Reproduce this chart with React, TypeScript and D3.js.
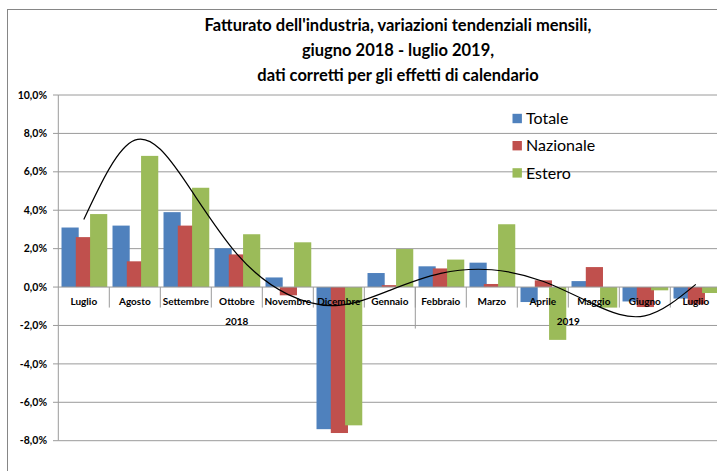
import React from "react";
import * as d3 from "d3";

const categories = ["Luglio","Agosto","Settembre","Ottobre","Novembre","Dicembre","Gennaio","Febbraio","Marzo","Aprile","Maggio","Giugno","Luglio "];
const totale =     [3.1, 3.2, 3.9, 2.02, 0.5, -7.4, 0.73, 1.08, 1.27, -0.78, 0.31, -0.75, -0.6];
const nazionale =  [2.6, 1.34, 3.2, 1.7, -0.43, -7.6, 0.1, 0.97, 0.16, 0.35, 1.04, -1.04, -0.9];
const estero =     [3.8, 6.83, 5.17, 2.75, 2.33, -7.2, 1.98, 1.43, 3.27, -2.75, -1.07, -0.17, -0.31];
const trend =      [3.52, 7.65, 5.46, 1.73, -0.38, -0.95, -0.17, 0.71, 0.9, 0.3, -0.9, -1.5, 0.14];
const yTicks = [10, 8, 6, 4, 2, 0, -2, -4, -6, -8];
const years = [{ label: "2018", from: 0, to: 6 }, { label: "2019", from: 7, to: 12 }];
const seriesNames = ["Totale", "Nazionale", "Estero"];
const colors = ["#4F81BD", "#C0504D", "#9BBB59"];
const titleLines = [
  "Fatturato dell'industria, variazioni tendenziali mensili,",
  "giugno 2018 - luglio 2019,",
  "dati corretti per gli effetti di calendario",
];

const fmt = (v: number) => v.toFixed(1).replace(".", ",") + "%";

export default function App() {
  const W = 717, H = 471;
  const x = d3.scaleBand<string>().domain(categories).range([58.3, 721.3]).padding(0);
  const y = d3.scaleLinear().domain([-8, 10]).range([440.7, 95]);
  const bw = x.bandwidth();
  const barW = bw * 0.337;
  const step = bw * 0.28;
  const off = bw * 0.063;
  const series = [totale, nazionale, estero];
  const y0 = y(0);
  const font = "Lato, 'Open Sans', sans-serif";
  const line = d3.line<number>()
    .x((_, i) => (x(categories[i]) as number) + bw / 2)
    .y((d) => y(d))
    .curve(d3.curveNatural);

  return (
    <div style={{ position: "fixed", left: 0, top: 0 }}>
      <svg width={W} height={H} style={{ display: "block", background: "#fff" }}>
        <rect x={7.5} y={9.5} width={720} height={480} fill="#fff" stroke="#868686" strokeWidth={1} />
        {titleLines.map((t, i) => (
          <text key={i} x={398} y={31 + i * 25} textAnchor="middle" fontFamily={font} fontWeight={700} fontSize={16.5} fill="#000">{t}</text>
        ))}
        {/* gridlines */}
        {yTicks.filter((t) => t !== 0).map((t) => (
          <line key={t} x1={58.3} x2={721.3} y1={y(t)} y2={y(t)} stroke="#9a9a9a" strokeWidth={1} />
        ))}
        {/* y axis */}
        <line x1={58.3} x2={58.3} y1={y(10)} y2={y(-8)} stroke="#9a9a9a" strokeWidth={1} />
        {yTicks.map((t) => (
          <g key={t}>
            <line x1={53} x2={58.3} y1={y(t)} y2={y(t)} stroke="#9a9a9a" strokeWidth={1} />
            <text x={47} y={y(t)} dy="0.35em" textAnchor="end" fontFamily={font} fontWeight={700} fontSize={10.5} fill="#000">{fmt(t)}</text>
          </g>
        ))}
        {/* bars */}
        {series.map((s, si) =>
          s.map((v, i) => {
            const bx = (x(categories[i]) as number) + off + si * step;
            return (
              <rect key={si + "-" + i} x={bx} width={barW} y={Math.min(y(v), y0)} height={Math.abs(y(v) - y0)} fill={colors[si]} />
            );
          })
        )}
        {/* x axis */}
        <line x1={58.3} x2={721.3} y1={y0} y2={y0} stroke="#9a9a9a" strokeWidth={1} />
        {categories.map((c, i) => (
          <line key={"t" + i} x1={(x(c) as number) + bw} x2={(x(c) as number) + bw} y1={y0} y2={y0 + 20.5} stroke="#9a9a9a" strokeWidth={1} />
        ))}
        <line x1={(x(categories[6]) as number) + bw} x2={(x(categories[6]) as number) + bw} y1={y0} y2={y0 + 41.5} stroke="#9a9a9a" strokeWidth={1} />
        {categories.map((c, i) => (
          <text key={"l" + i} x={(x(c) as number) + bw / 2} y={y0 + 14.5} dy="0.35em" textAnchor="middle" fontFamily={font} fontWeight={700} fontSize={10} fill="#000">{c.trim()}</text>
        ))}
        {years.map((yr) => {
          const a = x(categories[yr.from]) as number;
          const b = (x(categories[yr.to]) as number) + bw;
          return (
            <text key={yr.label} x={(a + b) / 2} y={y0 + 34.5} dy="0.35em" textAnchor="middle" fontFamily={font} fontWeight={700} fontSize={10} fill="#000">{yr.label}</text>
          );
        })}
        {/* trend */}
        <path d={line(trend) || ""} fill="none" stroke="#000" strokeWidth={1.2} />
        {/* legend */}
        {seriesNames.map((n, i) => (
          <g key={n} transform={`translate(512.5, ${118.5 + i * 27.2})`}>
            <rect x={0} y={-4.7} width={9.4} height={9.4} fill={colors[i]} />
            <text x={13.5} y={0} dy="0.36em" fontFamily={font} fontSize={16} fill="#000">{n}</text>
          </g>
        ))}
      </svg>
    </div>
  );
}
